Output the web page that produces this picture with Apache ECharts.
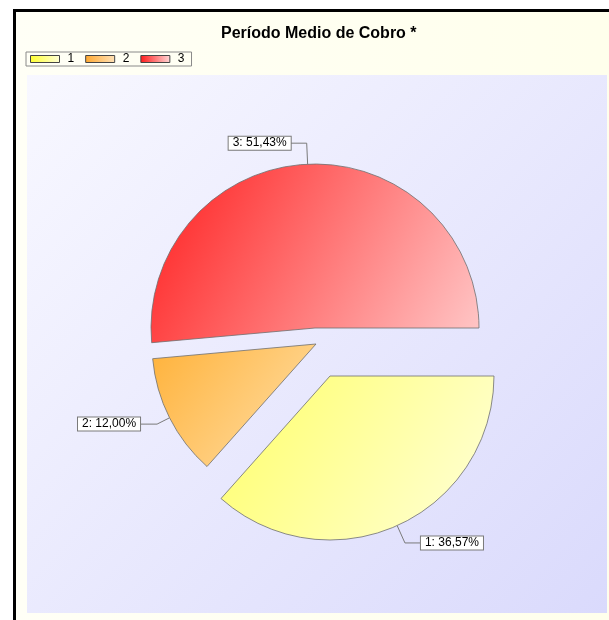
<!DOCTYPE html>
<html><head><meta charset="utf-8">
<script src="https://cdn.jsdelivr.net/npm/echarts@6/dist/echarts.min.js"></script>
<style>html,body{margin:0;padding:0;background:#fff}#c{width:609px;height:620px}</style>
</head><body><div id="c"></div>
<script>
const titleText = 'Período Medio de Cobro *';
const categories = ['1', '2', '3'];
const shares = [36.57, 12.00, 51.43];

// styling (not data)
const sliceCenters = [[330, 376], [316, 344], [315, 328]];
const lineLens = [[19, 16], [14, 17], [21, 16]];
const sliceGrad = [
  ['#FFFF6A', '#FFFFDA'],
  ['#FFB23A', '#FFE0AA'],
  ['#FF1E1E', '#FFC8C8']
];
const legendGrad = [
  ['#FFFF30', '#FFFFD8'],
  ['#FFA830', '#FFE2B8'],
  ['#FF1A1A', '#FFD8D8']
];
const FONT = '"Liberation Sans", Arial, sans-serif';

const chart = echarts.init(document.getElementById('c'), null, {renderer: 'canvas'});

function fmt(p) {
  return p.name + ': ' + p.percent.toFixed(2).replace('.', ',') + '%';
}

const series = categories.map((cat, i) => ({
  type: 'pie',
  radius: 164,
  center: sliceCenters[i],
  startAngle: 0,
  clockwise: true,
  avoidLabelOverlap: false,
  silent: true,
  animation: false,
  z: 3,
  label: {
    show: true, position: 'outside', formatter: fmt,
    backgroundColor: '#fff', borderColor: '#7a7a7a', borderWidth: 1,
    padding: [1, 4, 0, 4], color: '#000', fontSize: 12, lineHeight: 12,
    fontFamily: FONT, distanceToLabelLine: 0
  },
  labelLine: {
    show: true, length: lineLens[i][0], length2: lineLens[i][1], smooth: false,
    lineStyle: {color: '#7a7a7a', width: 1}
  },
  data: categories.map((c, j) => j === i ? {
    name: c, value: shares[j],
    itemStyle: {
      color: new echarts.graphic.LinearGradient(0, 0, 1, 1, [
        {offset: 0, color: sliceGrad[j][0]}, {offset: 1, color: sliceGrad[j][1]}]),
      borderColor: '#6e6e6e', borderWidth: 0.8
    }
  } : {
    name: c, value: shares[j],
    itemStyle: {color: 'rgba(0,0,0,0)', borderWidth: 0},
    label: {show: false}, labelLine: {show: false}
  })
}));

chart.setOption({
  animation: false,
  title: {
    text: titleText, left: 216, top: 21,
    textStyle: {fontFamily: FONT, fontSize: 16, fontWeight: 'bold', color: '#000'}
  },
  legend: {
    left: 26, top: 52, orient: 'horizontal',
    itemWidth: 29, itemHeight: 7, itemGap: 11, icon: 'rect',
    padding: [1, 7, 1, 4],
    borderColor: '#8a8a8a', borderWidth: 1,
    selectedMode: false,
    textStyle: {fontFamily: FONT, fontSize: 12, color: '#000', padding: [0, 0, 0, 3]},
    data: categories.map((c, j) => ({
      name: c,
      itemStyle: {
        color: new echarts.graphic.LinearGradient(0, 0, 1, 0, [
          {offset: 0, color: legendGrad[j][0]}, {offset: 1, color: legendGrad[j][1]}]),
        borderColor: '#444', borderWidth: 1
      }
    }))
  },
  graphic: [
    {type: 'rect', z: -10, silent: true,
      shape: {x: 14.5, y: 10.5, width: 700, height: 700},
      style: {fill: new echarts.graphic.LinearGradient(0, 0, 1, 0, [
        {offset: 0, color: '#FFFFF6'}, {offset: 1, color: '#FFFFEA'}]),
        stroke: '#000', lineWidth: 3}},
    {type: 'rect', z: -9, silent: true,
      shape: {x: 27, y: 75, width: 580, height: 538},
      style: {fill: new echarts.graphic.LinearGradient(0, 0, 1, 1, [
        {offset: 0, color: '#F8F8FF'}, {offset: 1, color: '#DADAFC'}])}}
  ],
  series: series
});
</script></body></html>
